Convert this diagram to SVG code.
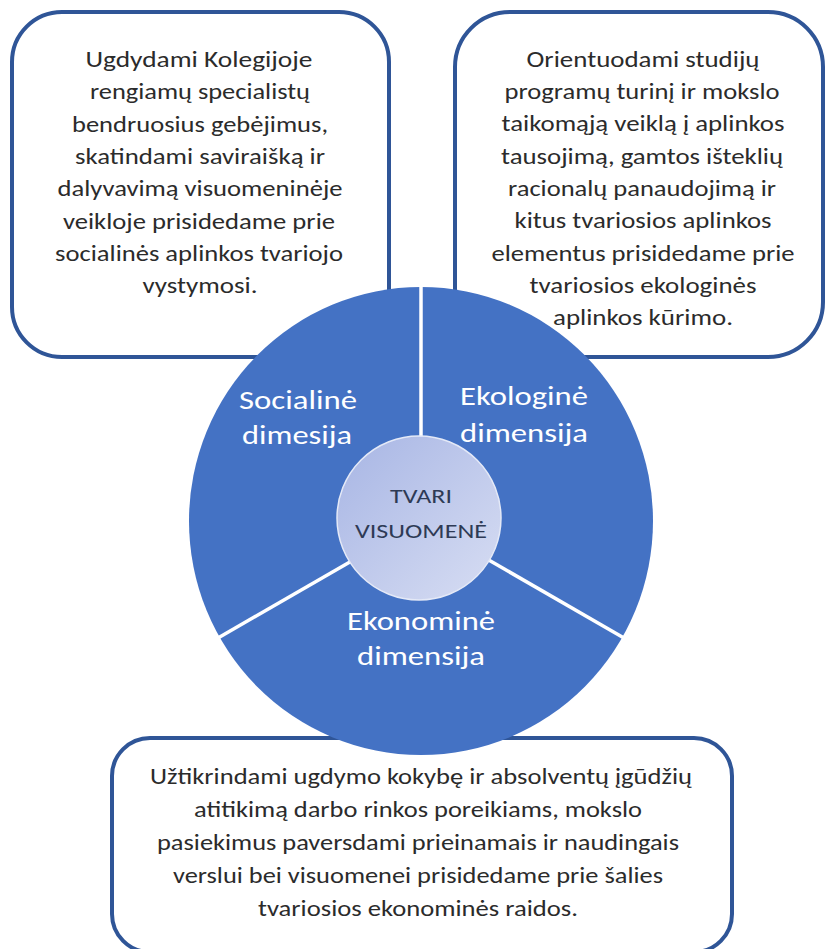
<svg xmlns="http://www.w3.org/2000/svg" width="826" height="949" viewBox="0 0 826 949">
  <defs>
    <linearGradient id="hubGrad" x1="0" y1="0" x2="1" y2="1">
      <stop offset="0" stop-color="#A7B5E4"/>
      <stop offset="1" stop-color="#D8DEF3"/>
    </linearGradient>
    <style>
      .box { fill: #FFFFFF; stroke: #2F5597; stroke-width: 4; }
      .btxt { font-family: Calibri, Carlito, Lato, "Open Sans", sans-serif; font-size: 22px; fill: #2B2B2B; text-anchor: middle; }
      .wtxt { font-family: Calibri, Carlito, Lato, "Open Sans", sans-serif; font-size: 27px; fill: #FFFFFF; text-anchor: middle; }
      .ctxt { font-family: Calibri, Carlito, Lato, "Open Sans", sans-serif; font-size: 21px; fill: #2E3A55; text-anchor: middle; }
      .wheel { fill: #4472C4; }
      .div { stroke: #FFFFFF; stroke-width: 3.5; fill: none; }
    </style>
  </defs>
  <rect width="826" height="949" fill="#FFFFFF"/>

  <g id="box-social">
    <rect class="box" x="12" y="12" width="377" height="345" rx="50" ry="50"/>
  </g>
  <g id="box-eco">
    <rect class="box" x="455" y="12" width="368" height="345" rx="55" ry="55"/>
  </g>
  <g id="box-econ">
    <rect class="box" x="112" y="738" width="620" height="214" rx="38" ry="38"/>
  </g>

  <g id="wheel">
    <ellipse class="wheel" cx="421" cy="521" rx="232" ry="234"/>
  </g>

  <g id="connectors">
    <line class="div" x1="421" y1="521" x2="421" y2="285"/>
    <line class="div" x1="421" y1="521" x2="624" y2="638"/>
    <line class="div" x1="421" y1="521" x2="218" y2="638"/>
  </g>

  <g id="hub">
    <circle cx="419" cy="518" r="82" fill="url(#hubGrad)" stroke="#E4E9F7" stroke-width="1.5"/>
    <text class="ctxt" x="421" y="503" textLength="62" lengthAdjust="spacingAndGlyphs">TVARI</text>
    <text class="ctxt" x="421" y="538" textLength="132" lengthAdjust="spacingAndGlyphs">VISUOMENĖ</text>
  </g>

  <g id="seg-social">
    <text class="wtxt" x="298" y="409" textLength="118" lengthAdjust="spacingAndGlyphs">Socialinė</text>
    <text class="wtxt" x="297" y="444" textLength="110" lengthAdjust="spacingAndGlyphs">dimesija</text>
  </g>
  <g id="seg-eco">
    <text class="wtxt" x="524" y="405" textLength="128" lengthAdjust="spacingAndGlyphs">Ekologinė</text>
    <text class="wtxt" x="524" y="442" textLength="128" lengthAdjust="spacingAndGlyphs">dimensija</text>
  </g>
  <g id="seg-econ">
    <text class="wtxt" x="421" y="630" textLength="148" lengthAdjust="spacingAndGlyphs">Ekonominė</text>
    <text class="wtxt" x="421" y="665" textLength="128" lengthAdjust="spacingAndGlyphs">dimensija</text>
  </g>

  <g id="text-social">
    <text class="btxt" x="199" y="67" textLength="227" lengthAdjust="spacingAndGlyphs">Ugdydami Kolegijoje</text>
    <text class="btxt" x="200" y="99" textLength="220" lengthAdjust="spacingAndGlyphs">rengiamų specialistų</text>
    <text class="btxt" x="200" y="132" textLength="256" lengthAdjust="spacingAndGlyphs">bendruosius gebėjimus,</text>
    <text class="btxt" x="200" y="164" textLength="250" lengthAdjust="spacingAndGlyphs">skatindami saviraišką ir</text>
    <text class="btxt" x="200" y="196" textLength="285" lengthAdjust="spacingAndGlyphs">dalyvavimą visuomeninėje</text>
    <text class="btxt" x="199" y="229" textLength="272" lengthAdjust="spacingAndGlyphs">veikloje prisidedame prie</text>
    <text class="btxt" x="199" y="261" textLength="288" lengthAdjust="spacingAndGlyphs">socialinės aplinkos tvariojo</text>
    <text class="btxt" x="200" y="293" textLength="115" lengthAdjust="spacingAndGlyphs">vystymosi.</text>
  </g>

  <g id="text-eco">
    <text class="btxt" x="643" y="67" textLength="233" lengthAdjust="spacingAndGlyphs">Orientuodami studijų</text>
    <text class="btxt" x="642" y="99" textLength="275" lengthAdjust="spacingAndGlyphs">programų turinį ir mokslo</text>
    <text class="btxt" x="643" y="131" textLength="283" lengthAdjust="spacingAndGlyphs">taikomąją veiklą į aplinkos</text>
    <text class="btxt" x="642" y="164" textLength="282" lengthAdjust="spacingAndGlyphs">tausojimą, gamtos išteklių</text>
    <text class="btxt" x="642" y="196" textLength="268" lengthAdjust="spacingAndGlyphs">racionalų panaudojimą ir</text>
    <text class="btxt" x="643" y="228" textLength="257" lengthAdjust="spacingAndGlyphs">kitus tvariosios aplinkos</text>
    <text class="btxt" x="643" y="261" textLength="303" lengthAdjust="spacingAndGlyphs">elementus prisidedame prie</text>
    <text class="btxt" x="643" y="293" textLength="227" lengthAdjust="spacingAndGlyphs">tvariosios ekologinės</text>
    <text class="btxt" x="643" y="325" textLength="180" lengthAdjust="spacingAndGlyphs">aplinkos kūrimo.</text>
  </g>

  <g id="text-econ">
    <text class="btxt" x="421" y="784" textLength="542" lengthAdjust="spacingAndGlyphs">Užtikrindami ugdymo kokybę ir absolventų įgūdžių</text>
    <text class="btxt" x="418" y="817" textLength="448" lengthAdjust="spacingAndGlyphs">atitikimą darbo rinkos poreikiams, mokslo</text>
    <text class="btxt" x="418" y="850" textLength="522" lengthAdjust="spacingAndGlyphs">pasiekimus paversdami prieinamais ir naudingais</text>
    <text class="btxt" x="418" y="883" textLength="490" lengthAdjust="spacingAndGlyphs">verslui bei visuomenei prisidedame prie šalies</text>
    <text class="btxt" x="418" y="916" textLength="320" lengthAdjust="spacingAndGlyphs">tvariosios ekonominės raidos.</text>
  </g>
</svg>
